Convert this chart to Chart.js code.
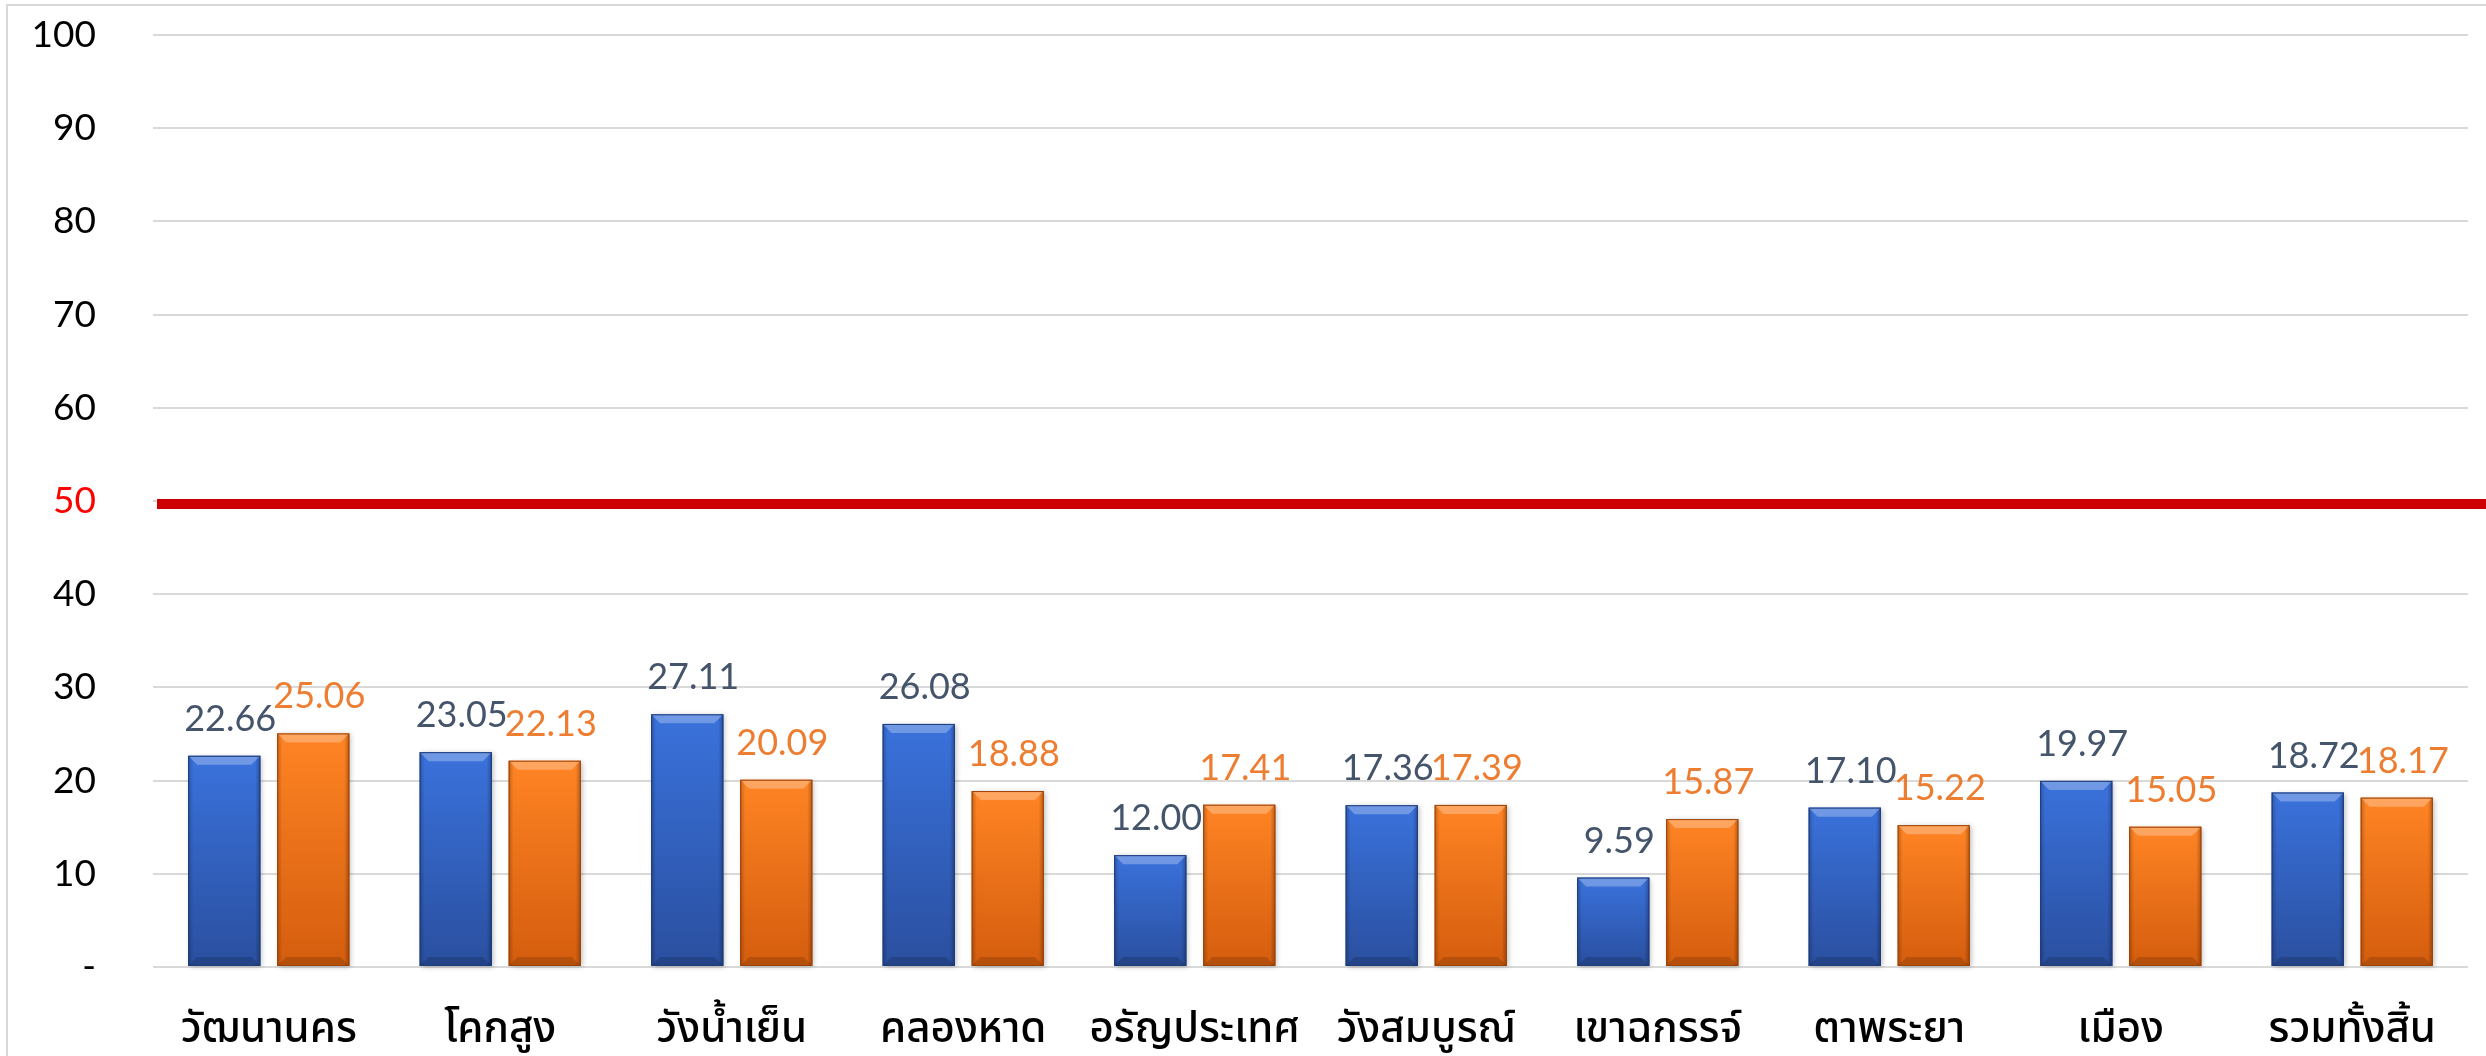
<!DOCTYPE html>
<html lang="th">
<head>
<meta charset="utf-8">
<title>Bar chart by district</title>
<script src="https://cdn.jsdelivr.net/npm/chart.js@4.4.1/dist/chart.umd.min.js"></script>
<style>
  html, body { margin: 0; padding: 0; background: #ffffff; }
  canvas { display: block; }
</style>
</head>
<body>
<canvas id="districtChart" width="2486" height="1056"></canvas>
<script>
// data
const districts = ["วัฒนานคร", "โคกสูง", "วังน้ำเย็น", "คลองหาด", "อรัญประเทศ",
                   "วังสมบูรณ์", "เขาฉกรรจ์", "ตาพระยา", "เมือง", "รวมทั้งสิ้น"];
const blueValues = [22.66, 23.05, 27.11, 26.08, 12.00, 17.36, 9.59, 17.10, 19.97, 18.72];
const orangeValues = [25.06, 22.13, 20.09, 18.88, 17.41, 17.39, 15.87, 15.22, 15.05, 18.17];
const yTicks = [0, 10, 20, 30, 40, 50, 60, 70, 80, 90, 100];
const targetValue = 50;

const numFont = "Lato, 'Open Sans', sans-serif";
const thaiFont = "'Noto Sans Thai', 'Noto Sans Thai UI', Sarabun, Loma, Waree, 'Noto Sans', sans-serif";

// light grey frame round the whole chart (right/bottom edges fall off the picture)
const frame = {
  id: "frame",
  beforeDraw(chart) {
    const { ctx } = chart;
    ctx.save();
    ctx.strokeStyle = "#d9d9d9";
    ctx.lineWidth = 2;
    ctx.strokeRect(7, 5, chart.width + 20, chart.height + 20);
    ctx.restore();
  }
};

// bevelled "3D" look for the bars, drawn on top of the library's bars
const bevelBars = {
  id: "bevelBars",
  afterDatasetsDraw(chart) {
    const { ctx } = chart;
    const shades = [
      { top: "#3a72dc", bottom: "#2a4f9f", edge: "#1e3b7a" },
      { top: "#ff8424", bottom: "#d45d0e", edge: "#9c4308" }
    ];
    chart.data.datasets.forEach((ds, i) => {
      const meta = chart.getDatasetMeta(i);
      const s = shades[i];
      meta.data.forEach((bar) => {
        const { x, y, base, width } = bar.getProps(["x", "y", "base", "width"], true);
        const l = x - width / 2, r = x + width / 2, h = base - y;
        const bev = 9;

        ctx.save();
        ctx.shadowColor = "rgba(0,0,0,0.25)";
        ctx.shadowBlur = 5;
        ctx.shadowOffsetX = 2;
        ctx.shadowOffsetY = 1;
        const g = ctx.createLinearGradient(0, y, 0, base);
        g.addColorStop(0, s.top);
        g.addColorStop(1, s.bottom);
        ctx.fillStyle = g;
        ctx.fillRect(l, y, width, h);
        ctx.restore();

        ctx.save();
        // darker sides
        const side = ctx.createLinearGradient(l, 0, r, 0);
        side.addColorStop(0, "rgba(0,0,0,0.22)");
        side.addColorStop(0.07, "rgba(0,0,0,0)");
        side.addColorStop(0.93, "rgba(0,0,0,0)");
        side.addColorStop(1, "rgba(0,0,0,0.28)");
        ctx.fillStyle = side;
        ctx.fillRect(l, y, width, h);

        // light top bevel
        ctx.fillStyle = "rgba(255,255,255,0.28)";
        ctx.beginPath();
        ctx.moveTo(l, y);
        ctx.lineTo(r, y);
        ctx.lineTo(r - bev, y + bev);
        ctx.lineTo(l + bev, y + bev);
        ctx.closePath();
        ctx.fill();

        // dark bottom bevel
        ctx.fillStyle = "rgba(0,0,0,0.15)";
        ctx.beginPath();
        ctx.moveTo(l, base);
        ctx.lineTo(r, base);
        ctx.lineTo(r - bev, base - bev);
        ctx.lineTo(l + bev, base - bev);
        ctx.closePath();
        ctx.fill();

        ctx.strokeStyle = s.edge;
        ctx.lineWidth = 1;
        ctx.strokeRect(l + 0.5, y + 0.5, width - 1, h - 1);
        ctx.restore();
      });
    });
  }
};

// value labels above each bar
const valueLabels = {
  id: "valueLabels",
  afterDatasetsDraw(chart) {
    const { ctx } = chart;
    chart.data.datasets.forEach((ds, i) => {
      const meta = chart.getDatasetMeta(i);
      ctx.save();
      ctx.font = "36px " + numFont;
      ctx.fillStyle = ds.labelColor;
      ctx.textAlign = "center";
      ctx.textBaseline = "alphabetic";
      meta.data.forEach((bar, j) => {
        ctx.fillText(ds.data[j].toFixed(2), bar.x + 6, bar.y - 25);
      });
      ctx.restore();
    });
  }
};

// thick red target line at 50, running out to the right edge
const targetLine = {
  id: "targetLine",
  afterDatasetsDraw(chart) {
    const { ctx, chartArea, scales } = chart;
    const y = scales.y.getPixelForValue(targetValue) + 3;
    ctx.save();
    ctx.strokeStyle = "#cc0000";
    ctx.lineWidth = 10;
    ctx.beginPath();
    ctx.moveTo(chartArea.left + 4, y);
    ctx.lineTo(chart.width, y);
    ctx.stroke();
    ctx.restore();
  }
};

new Chart(document.getElementById("districtChart").getContext("2d"), {
  type: "bar",
  data: {
    labels: districts,
    datasets: [
      {
        label: "ชุดที่ 1",
        data: blueValues,
        backgroundColor: "#2f5fbf",
        labelColor: "#44546a",
        categoryPercentage: 0.769,
        barPercentage: 0.81
      },
      {
        label: "ชุดที่ 2",
        data: orangeValues,
        backgroundColor: "#ee7018",
        labelColor: "#ed7d31",
        categoryPercentage: 0.769,
        barPercentage: 0.81
      }
    ]
  },
  options: {
    responsive: false,
    maintainAspectRatio: false,
    animation: false,
    layout: { padding: { top: 35, right: 18, bottom: 0, left: 0 } },
    plugins: {
      legend: { display: false },
      tooltip: { enabled: false }
    },
    scales: {
      x: {
        grid: { display: false, drawTicks: false },
        border: { display: false },
        ticks: {
          color: "#000000",
          font: { family: thaiFont, size: 42, weight: "500" },
          padding: 41,
          maxRotation: 0,
          autoSkip: false
        },
        afterFit(scale) {
          scale.height = 89;
          scale.paddingLeft = 0;
          scale.paddingRight = 0;
        }
      },
      y: {
        min: 0,
        max: 100,
        afterBuildTicks(scale) { scale.ticks = yTicks.map((v) => ({ value: v })); },
        grid: { color: "#d9d9d9", lineWidth: 2, drawTicks: false },
        border: { display: false },
        ticks: {
          padding: 57,
          font: { family: numFont, size: 37 },
          color: (c) => (c.tick && c.tick.value === targetValue ? "#ff0000" : "#000000"),
          callback: (v) => (v === 0 ? "-" : String(v))
        },
        afterFit(scale) {
          scale.width = 153;
          scale.paddingTop = 0;
          scale.paddingBottom = 0;
        }
      }
    }
  },
  plugins: [frame, bevelBars, targetLine, valueLabels]
});
</script>
</body>
</html>
